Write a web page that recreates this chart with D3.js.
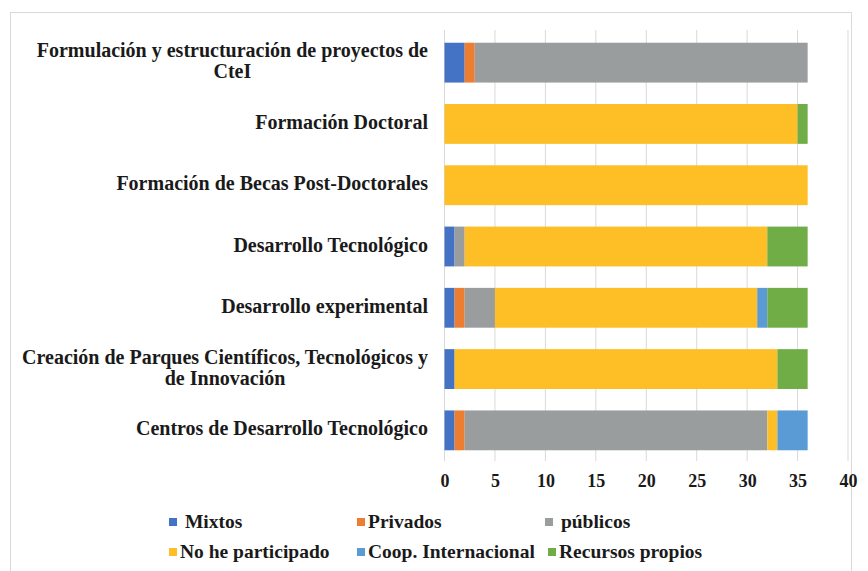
<!DOCTYPE html>
<html>
<head>
<meta charset="utf-8">
<script src="https://cdn.jsdelivr.net/npm/d3@7"></script>
<style>
  body { margin: 0; background: #fff; }
  svg text { font-family: "Liberation Serif", Tinos, "Times New Roman", Times, "DejaVu Serif", serif !important; fill: #1a1a1a; }
</style>
</head>
<body>
<svg id="chart" width="868" height="571"></svg>
<script>
// categories, top to bottom (each entry may hold a line break)
const categories = [
  'Formulación y estructuración de proyectos de\nCteI',
  'Formación Doctoral',
  'Formación de Becas Post-Doctorales',
  'Desarrollo Tecnológico',
  'Desarrollo experimental',
  'Creación de Parques Científicos, Tecnológicos y\nde Innovación',
  'Centros de Desarrollo Tecnológico'
];

const seriesNames = ['Mixtos', 'Privados', 'públicos', 'No he participado', 'Coop. Internacional', 'Recursos propios'];
const seriesColors = ['#4472C4', '#ED7D31', '#9A9D9D', '#FDBE26', '#5B9BD5', '#70AD47'];

// values per series, in category order
const mixtos = [2, 0, 0, 1, 1, 1, 1];
const privados = [1, 0, 0, 0, 1, 0, 1];
const publicos = [33, 0, 0, 1, 3, 0, 30];
const noParticipado = [0, 35, 36, 30, 26, 32, 1];
const coopInternacional = [0, 0, 0, 0, 1, 0, 3];
const recursosPropios = [0, 1, 0, 4, 4, 3, 0];

const xTicks = [0, 5, 10, 15, 20, 25, 30, 35, 40];

const seriesValues = [mixtos, privados, publicos, noParticipado, coopInternacional, recursosPropios];

const rows = categories.map((c, i) => {
  const r = { cat: c };
  seriesNames.forEach((s, j) => { r[s] = seriesValues[j][i]; });
  return r;
});

const svg = d3.select('#chart');

// chart frame
svg.append('rect')
  .attr('x', 10.5).attr('y', 12.5)
  .attr('width', 841).attr('height', 580)
  .attr('fill', 'none')
  .attr('stroke', '#d9d9d9');

const plot = { left: 444.5, right: 848, top: 32, bottom: 461 };

const x = d3.scaleLinear().domain([0, 40]).range([plot.left, plot.right]);
const y = d3.scaleBand().domain(categories).range([plot.top, plot.bottom]).paddingInner(0.35).paddingOuter(0.175);

// gridlines
svg.append('g')
  .selectAll('line')
  .data(xTicks)
  .enter()
  .append('line')
  .attr('x1', d => x(d)).attr('x2', d => x(d))
  .attr('y1', 30).attr('y2', plot.bottom)
  .attr('stroke', '#d9d9d9')
  .attr('stroke-width', 1);

// tick labels
const xAxis = svg.append('g')
  .attr('transform', `translate(0,${plot.bottom})`)
  .call(d3.axisBottom(x).tickValues(xTicks).tickSize(0).tickPadding(13));
xAxis.attr('font-family', null);
xAxis.select('.domain').remove();
xAxis.selectAll('text')
  .attr('font-size', '18px')
  .attr('font-weight', 'bold')
  .attr('fill', '#1a1a1a');

// stacked bars
const stack = d3.stack().keys(seriesNames);
const layers = stack(rows);

svg.append('g')
  .selectAll('g')
  .data(layers)
  .enter()
  .append('g')
  .attr('fill', (d, i) => seriesColors[i])
  .selectAll('rect')
  .data(d => d.filter(p => p[1] > p[0]))
  .enter()
  .append('rect')
  .attr('x', d => x(d[0]))
  .attr('width', d => x(d[1]) - x(d[0]))
  .attr('y', d => y(d.data.cat))
  .attr('height', y.bandwidth());

// category labels
const labelRight = 428;
const labelSize = 20;
const labels = svg.append('g');
categories.forEach(c => {
  const lines = c.split('\n');
  const cy = y(c) + y.bandwidth() / 2;
  const lh = 21;
  const g = labels.append('g');
  const first = g.append('text')
    .attr('font-size', labelSize + 'px')
    .attr('font-weight', 'bold')
    .attr('text-anchor', 'end')
    .attr('x', labelRight)
    .attr('y', cy - (lines.length - 1) * lh / 2 + 5)
    .text(lines[0]);
  if (lines.length > 1) {
    const w = first.node().getComputedTextLength();
    g.append('text')
      .attr('font-size', labelSize + 'px')
      .attr('font-weight', 'bold')
      .attr('text-anchor', 'middle')
      .attr('x', labelRight - w / 2)
      .attr('y', cy + lh / 2 + 5)
      .text(lines[1]);
  }
});

// legend
const legendPos = [
  [169, 522], [357, 522], [545, 522],
  [169, 552], [357, 552], [548, 552]
];
const legendText = [' Mixtos', 'Privados', ' públicos', 'No he participado', 'Coop. Internacional', 'Recursos propios'];
const legend = svg.append('g');
seriesNames.forEach((s, i) => {
  const [lx, ly] = legendPos[i];
  legend.append('rect')
    .attr('x', lx).attr('y', ly - 4)
    .attr('width', 8).attr('height', 8)
    .attr('fill', seriesColors[i]);
  legend.append('text')
    .attr('x', lx + 11)
    .attr('y', ly + 6)
    .attr('font-size', '19.5px')
    .attr('font-weight', 'bold')
    .attr('xml:space', 'preserve')
    .style('white-space', 'pre')
    .text(legendText[i]);
});
</script>
</body>
</html>
